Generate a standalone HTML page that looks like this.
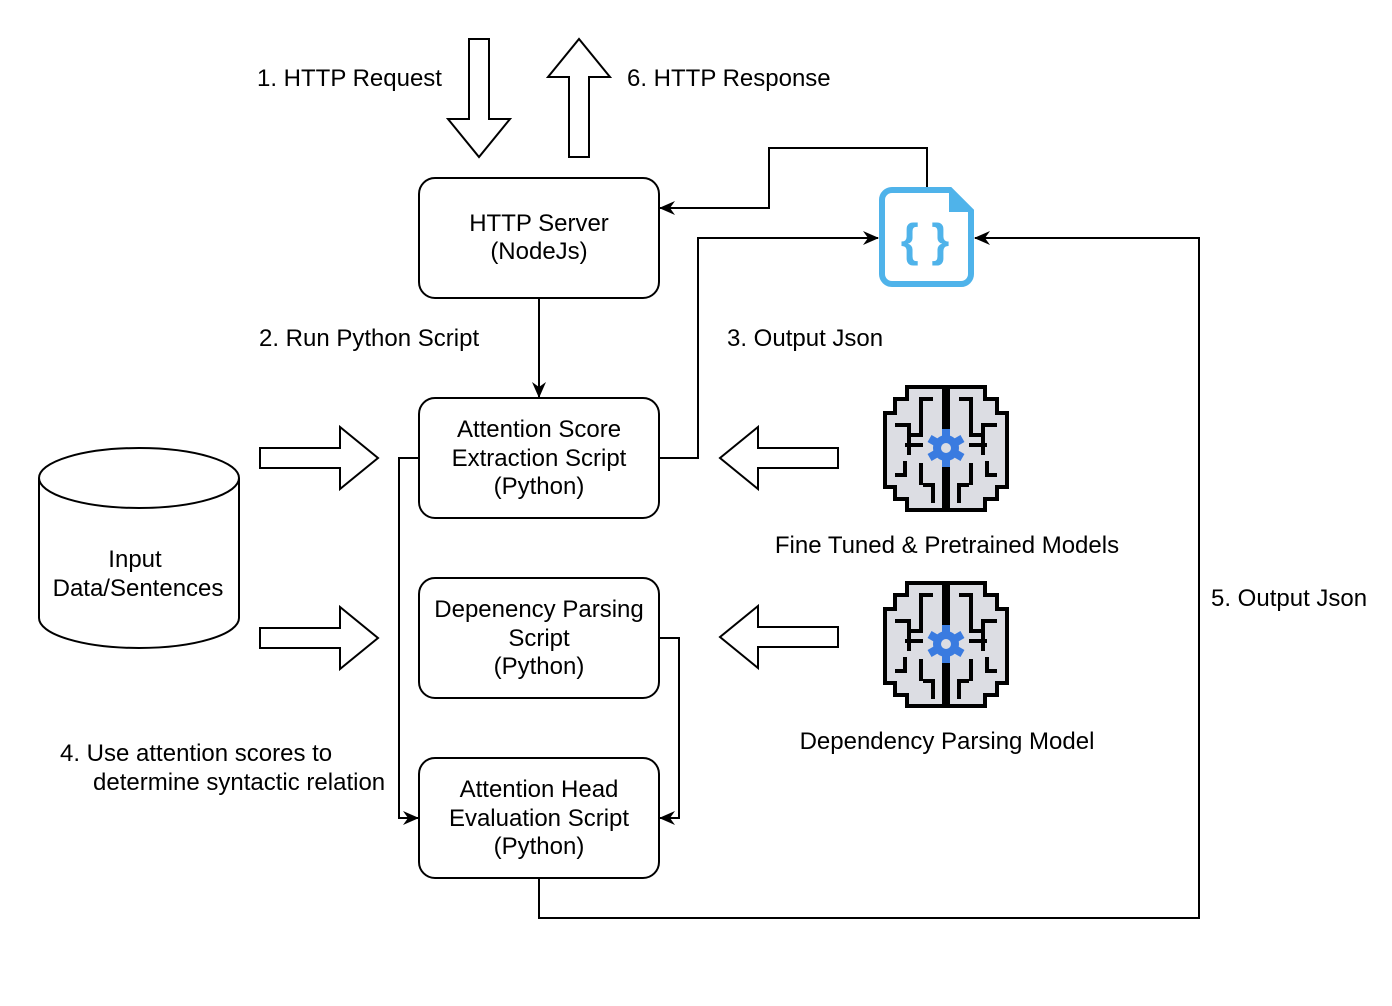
<!DOCTYPE html>
<html><head><meta charset="utf-8"><style>
html,body{margin:0;padding:0;background:#fff}
svg{display:block}
text{font-family:"Liberation Sans",Arial,sans-serif;font-size:24px;fill:#000}
</style></head><body>
<svg width="1392" height="1006" viewBox="0 0 1392 1006" xmlns="http://www.w3.org/2000/svg">
<defs>
<marker id="ah" markerWidth="16" markerHeight="14" refX="15" refY="7" orient="auto" markerUnits="userSpaceOnUse">
<path d="M0,0 L16,7 L0,14 L5,7 Z" fill="#000"/>
</marker>
<g id="brain">
<path d="M61,2 L24,2 L24,14 L12,14 L12,28 L2,28 L2,102 L12,102 L12,114 L24,114 L24,125 L61,125 Z" fill="#dcdde3" stroke="#000" stroke-width="4" stroke-linejoin="miter"/>
<path d="M65,2 L102,2 L102,14 L114,14 L114,28 L124,28 L124,102 L114,102 L114,114 L102,114 L102,125 L65,125 Z" fill="#dcdde3" stroke="#000" stroke-width="4"/>
<path d="M50,14 H38 V50 H24 M12,40 H26 V70 M12,90 H22 V76 M40,60 H22 M40,100 H50 V118 M38,78 V100 M76,14 H88 V50 H102 M114,40 H100 V70 M114,90 H104 V76 M86,60 H104 M86,100 H76 V118 M88,78 V100" fill="none" stroke="#000" stroke-width="4"/>
<g transform="translate(63,63)" fill="#3a7be0">
<circle r="13"/>
<rect x="-4" y="-19" width="8" height="38"/>
<rect x="-4" y="-19" width="8" height="38" transform="rotate(60)"/>
<rect x="-4" y="-19" width="8" height="38" transform="rotate(120)"/>
<circle r="5" fill="#dcdde3"/>
</g>
</g>
</defs>

<path d="M469,39 H489 V119 H510 L479,157 L448,119 H469 Z" fill="#fff" stroke="#000" stroke-width="2"/>
<path d="M569,157 H589 V77 H610 L579,39 L548,77 H569 Z" fill="#fff" stroke="#000" stroke-width="2"/>
<text x="257" y="86">1. HTTP Request</text>
<text x="627" y="86">6. HTTP Response</text>

<g fill="#fff" stroke="#000" stroke-width="2">
<rect x="419" y="178" width="240" height="120" rx="16"/>
<rect x="419" y="398" width="240" height="120" rx="16"/>
<rect x="419" y="578" width="240" height="120" rx="16"/>
<rect x="419" y="758" width="240" height="120" rx="16"/>
</g>
<g text-anchor="middle">
<text x="539" y="231">HTTP Server</text>
<text x="539" y="259">(NodeJs)</text>
<text x="539" y="437">Attention Score</text>
<text x="539" y="466">Extraction Script</text>
<text x="539" y="494">(Python)</text>
<text x="539" y="617">Depenency Parsing</text>
<text x="539" y="646">Script</text>
<text x="539" y="674">(Python)</text>
<text x="539" y="797">Attention Head</text>
<text x="539" y="826">Evaluation Script</text>
<text x="539" y="854">(Python)</text>
</g>

<g fill="none" stroke="#000" stroke-width="2">
<path d="M539,298 V397" marker-end="url(#ah)"/>
<path d="M927,187 V148 H769 V208 H660" marker-end="url(#ah)"/>
<path d="M659,458 H698 V238 H878" marker-end="url(#ah)"/>
<path d="M419,458 H399 V818 H418" marker-end="url(#ah)"/>
<path d="M659,638 H679 V818 H660" marker-end="url(#ah)"/>
<path d="M539,878 V918 H1199 V238 H975" marker-end="url(#ah)"/>
</g>

<text x="259" y="346">2. Run Python Script</text>
<text x="727" y="346">3. Output Json</text>
<text x="1211" y="606">5. Output Json</text>
<text x="60" y="761">4. Use attention scores to</text>
<text x="93" y="790">determine syntactic relation</text>

<path d="M39,478 V618 A100,30 0 0 0 239,618 V478" fill="#fff" stroke="#000" stroke-width="2"/>
<ellipse cx="139" cy="478" rx="100" ry="30" fill="#fff" stroke="#000" stroke-width="2"/>
<text x="135" y="567" text-anchor="middle">Input</text>
<text x="138" y="596" text-anchor="middle">Data/Sentences</text>

<g fill="#fff" stroke="#000" stroke-width="2">
<path d="M260,448 H340 V427 L378,458 L340,489 V468 H260 Z"/>
<path d="M260,628 H340 V607 L378,638 L340,669 V648 H260 Z"/>
<path d="M838,448 H758 V427 L720,458 L758,489 V468 H838 Z"/>
<path d="M838,627 H758 V606 L720,637 L758,668 V647 H838 Z"/>
</g>

<path d="M892,190 H950 L971,211 V274 A10,10 0 0 1 961,284 H892 A10,10 0 0 1 882,274 V200 A10,10 0 0 1 892,190 Z" fill="#fff" stroke="#4fb3ea" stroke-width="6"/>
<path d="M950,190 V211 H971 Z" fill="#4fb3ea" stroke="#4fb3ea" stroke-width="2"/>
<text x="925" y="256" text-anchor="middle" style="font-size:46px;font-weight:bold;fill:#4fb3ea">{ }</text>

<use href="#brain" x="883" y="385"/>
<use href="#brain" x="883" y="581"/>
<text x="947" y="553" text-anchor="middle">Fine Tuned &amp; Pretrained Models</text>
<text x="947" y="749" text-anchor="middle">Dependency Parsing Model</text>
</svg>
</body></html>
